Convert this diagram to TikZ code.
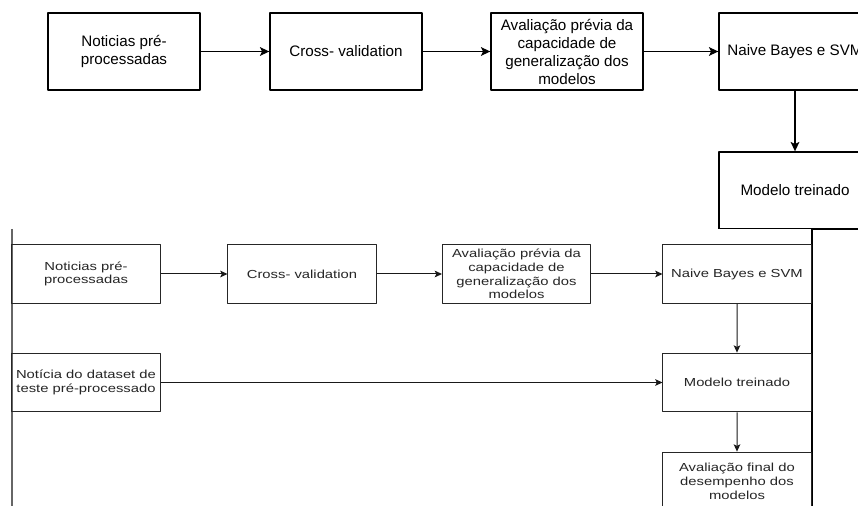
\documentclass[tikz,border=0pt]{standalone}
\usepackage{fontspec}
\setmainfont{Liberation Sans}
\usetikzlibrary{arrows.meta}
\tikzset{>={Stealth[length=7pt, width=6.5pt, inset=1.5pt]}}
\tikzset{bigbox/.style={draw, line width=1pt, minimum width=114pt, minimum height=57.75pt, inner sep=0pt, align=center, font=\fontsize{11.4}{13.5}\selectfont},
  smallbox/.style={bigbox, draw=black!85, text=black!85, line width=0.75pt, xscale=0.974, yscale=0.766},
  bigarrow/.style={->, line width=1pt},
  smallarrow/.style={-{Stealth[length=5.5pt, width=5pt, inset=1.2pt]}, line width=0.75pt, black!90}}

\begin{document}
\begin{tikzpicture}[x=0.75pt, y=-0.75pt, line join=round]
    \useasboundingbox (0,0) rectangle (858,506);
    \clip (0,0) rectangle (858,506);
    \node[bigbox] (np) at (124,51.5) {Noticias pré-\\processadas};
    \node[bigbox] (cv) at (346,51.5) {Cross- validation};
    \node[bigbox] (ap) at (567,51.5) {Avaliação prévia da\\capacidade de\\generalização dos\\modelos};
    \node[bigbox] (nb) at (795,51.5) {Naive Bayes e SVM};
    \node[bigbox] (mt) at (795,190.5) {Modelo treinado};
    \draw[bigarrow] (np) -- (cv);
    \draw[bigarrow] (cv) -- (ap);
    \draw[bigarrow] (ap) -- (nb);
    \draw[bigarrow] (nb) -- (mt);
    \fill[white] (12,229) rectangle (812,507);
    \draw[black!60, line width=0.8pt] (12,229) -- (12,506);
    \draw[line width=0.8pt] (812,229.5) -- (812,506) (812,229.5) -- (858,229.5);
    \node[smallbox] (np2) at (86,274) {Noticias pré-\\processadas};
    \node[smallbox] (cv2) at (302,274) {Cross- validation};
    \node[smallbox] (ap2) at (516.5,274) {Avaliação prévia da\\capacidade de\\generalização dos\\modelos};
    \node[smallbox] (nb2) at (737,274) {Naive Bayes e SVM};
    \node[smallbox] (nt) at (86,382.5) {Notícia do dataset de\\teste pré-processado};
    \node[smallbox] (mt2) at (737,382.5) {Modelo treinado};
    \node[smallbox] (af) at (737,481.5) {Avaliação final do\\desempenho dos\\modelos};
    \draw[smallarrow] (np2) -- (cv2);
    \draw[smallarrow] (cv2) -- (ap2);
    \draw[smallarrow] (ap2) -- (nb2);
    \draw[smallarrow] (nb2) -- (mt2);
    \draw[smallarrow] (nt) -- (mt2);
    \draw[smallarrow] (mt2) -- (af);
\end{tikzpicture}
\end{document}
